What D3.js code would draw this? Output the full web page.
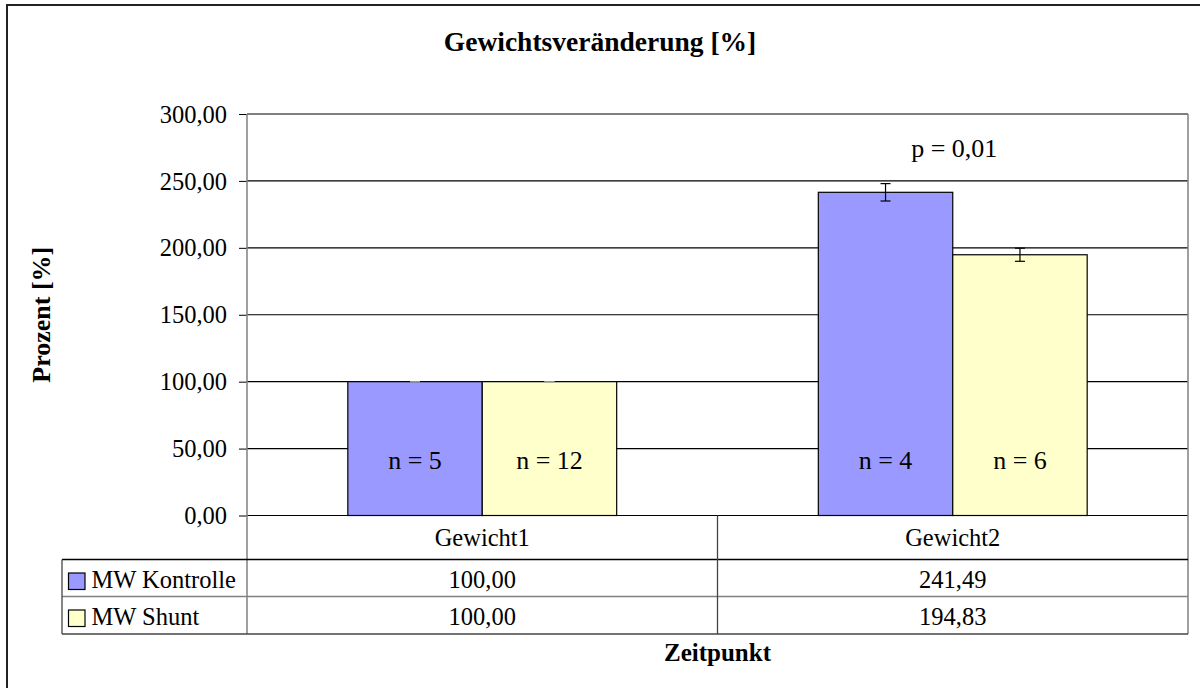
<!DOCTYPE html>
<html><head><meta charset="utf-8">
<script src="https://cdn.jsdelivr.net/npm/d3@7"></script>
<style>body{margin:0;background:#fff}svg{display:block}text{font-family:"Liberation Serif","Times New Roman",serif;fill:#000}</style>
</head><body><svg id="c" width="1200" height="688"></svg>
<script>
const categories = ["Gewicht1", "Gewicht2"];
const seriesNames = ["MW Kontrolle", "MW Shunt"];
const kontrolle = [100.00, 241.49];
const shunt = [100.00, 194.83];
const kontrolleErr = [0, 6.5];
const shuntErr = [0, 4.9];
const nKontrolle = ["n = 5", "n = 4"];
const nShunt = ["n = 12", "n = 6"];
const yTicks = [0, 50, 100, 150, 200, 250, 300];
const colors = ["#9999FF", "#FFFFCC"];
const title = "Gewichtsveränderung [%]";
const yTitle = "Prozent [%]";
const xTitle = "Zeitpunkt";
const pText = "p = 0,01";

const series = [
  {name: seriesNames[0], values: kontrolle, err: kontrolleErr, n: nKontrolle, color: colors[0]},
  {name: seriesNames[1], values: shunt, err: shuntErr, n: nShunt, color: colors[1]}
];

const svg = d3.select("#c");
const L = 247, R = 1188, T = 114, B = 515.5;
const rowA = 559.5, rowB = 596.5, rowC = 634, tableLeft = 62;

svg.append("rect").attr("x", 7).attr("y", 5).attr("width", 1200).attr("height", 700)
  .attr("fill", "#fff").attr("stroke", "#222").attr("stroke-width", 2);

const y = d3.scaleLinear().domain([0, 300]).range([B, T]);
const x = d3.scaleBand().domain(categories).range([L, R]).padding(0);
const bw = x.bandwidth();
const xs = d3.scaleBand().domain(seriesNames).range([bw * 0.75 / 3.5, bw * 2.75 / 3.5]).padding(0);
const fmt = v => d3.format(".2f")(v).replace(".", ",");

// gridlines
svg.append("g").selectAll("line").data(yTicks).join("line")
  .attr("x1", L).attr("x2", R).attr("y1", d => y(d)).attr("y2", d => y(d))
  .attr("stroke", "#000").attr("stroke-width", 1.2);

// right border of plot area
svg.append("line").attr("x1", R).attr("x2", R).attr("y1", T).attr("y2", rowC)
  .attr("stroke", "#808080").attr("stroke-width", 1.5);

// y axis
const yAxis = d3.axisLeft(y).tickValues(yTicks).tickFormat(fmt).tickSize(8).tickSizeOuter(0);
const ga = svg.append("g").attr("transform", `translate(${L},0)`).call(yAxis);
ga.select(".domain").remove();
ga.selectAll(".tick line").attr("stroke", "#000");
ga.selectAll(".tick text").attr("x", -20).attr("dy", "0.33em")
  .style("font-size", "24.5px").style("font-family", "Liberation Serif").attr("fill", "#000");

// bars
const groups = svg.append("g").selectAll("g").data(series).join("g");
groups.selectAll("rect").data(s => s.values.map((v, i) => ({s, v, i}))).join("rect")
  .attr("x", d => x(categories[d.i]) + xs(d.s.name))
  .attr("width", xs.bandwidth())
  .attr("y", d => y(d.v)).attr("height", d => B - y(d.v))
  .attr("fill", d => d.s.color).attr("stroke", "#000").attr("stroke-width", 1.2);

// error bars
const eb = svg.append("g");
series.forEach(s => s.values.forEach((v, i) => {
  const cx = x(categories[i]) + xs(s.name) + xs.bandwidth() / 2;
  const e = s.err[i];
  const col = e === 0 ? "#999" : "#000";
  eb.append("line").attr("x1", cx).attr("x2", cx).attr("y1", y(v + e)).attr("y2", y(v - e)).attr("stroke", col).attr("stroke-width", 1.2);
  [v + e, v - e].forEach(t => eb.append("line").attr("x1", cx - 5).attr("x2", cx + 5).attr("y1", y(t)).attr("y2", y(t)).attr("stroke", col).attr("stroke-width", 1.2));
}));

// n labels
series.forEach(s => s.n.forEach((t, i) => {
  svg.append("text").attr("x", x(categories[i]) + xs(s.name) + xs.bandwidth() / 2)
    .attr("y", 469).attr("text-anchor", "middle").style("font-size", "26px").text(t);
}));

// p label
svg.append("text").attr("x", x(categories[1]) + bw / 2 + 1.5).attr("y", 157)
  .attr("text-anchor", "middle").style("font-size", "26px").text(pText);

// data table lines
const tl = svg.append("g").attr("stroke-width", 1.3);
tl.append("line").attr("x1", L).attr("x2", L).attr("y1", T).attr("y2", rowC).attr("stroke", "#808080").attr("stroke-width", 1.5);
tl.append("line").attr("x1", tableLeft).attr("x2", R).attr("y1", rowA).attr("y2", rowA).attr("stroke", "#000");
tl.append("line").attr("x1", tableLeft).attr("x2", R).attr("y1", rowB).attr("y2", rowB).attr("stroke", "#808080");
tl.append("line").attr("x1", tableLeft).attr("x2", R).attr("y1", rowC).attr("y2", rowC).attr("stroke", "#444");
tl.append("line").attr("x1", tableLeft).attr("x2", tableLeft).attr("y1", rowA).attr("y2", rowC).attr("stroke", "#444");
categories.slice(1).forEach(c => tl.append("line").attr("x1", x(c)).attr("x2", x(c)).attr("y1", B).attr("y2", rowC).attr("stroke", "#444"));

// category labels
categories.forEach(c => svg.append("text").attr("x", x(c) + bw / 2).attr("y", 546)
  .attr("text-anchor", "middle").style("font-size", "24.5px").text(c));

// rows
const rowTops = [rowA, rowB];
series.forEach((s, r) => {
  const yb = rowTops[r] + 28.5;
  svg.append("rect").attr("x", 68.5).attr("y", rowTops[r] + 13.5).attr("width", 16.5).attr("height", 16.5)
    .attr("fill", s.color).attr("stroke", "#000").attr("stroke-width", 1.2);
  svg.append("text").attr("x", 91.5).attr("y", yb).style("font-size", "24.5px").text(s.name);
  s.values.forEach((v, i) => svg.append("text").attr("x", x(categories[i]) + bw / 2).attr("y", yb)
    .attr("text-anchor", "middle").style("font-size", "24.5px").text(fmt(v)));
});

// titles
svg.append("text").attr("x", 600).attr("y", 51).attr("text-anchor", "middle")
  .style("font-size", "27.5px").style("font-weight", "bold").text(title);
svg.append("text").attr("x", (L + R) / 2).attr("y", 661).attr("text-anchor", "middle")
  .style("font-size", "25px").style("font-weight", "bold").text(xTitle);
svg.append("text").attr("transform", `translate(50,${(T + B) / 2}) rotate(-90)`).attr("text-anchor", "middle")
  .style("font-size", "26px").style("font-weight", "bold").text(yTitle);
</script></body></html>
